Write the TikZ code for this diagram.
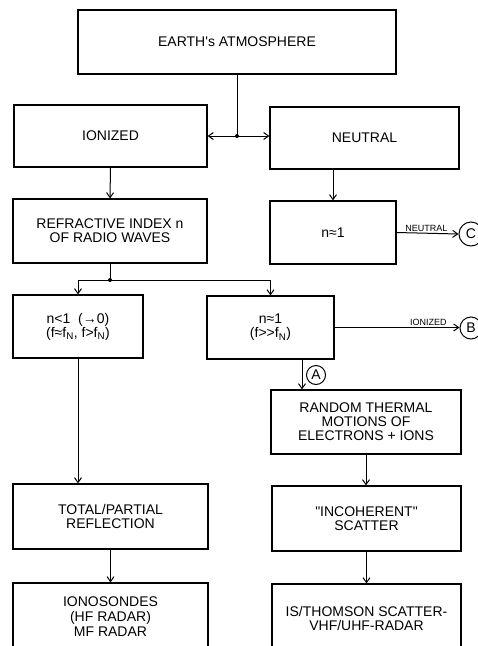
\documentclass[tikz,border=0pt]{standalone}
\usepackage{fontspec}
\setmainfont{Liberation Sans}[Ligatures=TeXOff]
\usetikzlibrary{arrows.meta,calc}
\begin{document}
\begin{tikzpicture}[x=1pt,y=-1pt,
  box/.style={draw,line width=1.1pt,inner sep=0pt,align=center,font=\fontsize{14}{14}\selectfont},
  conn/.style={line width=1pt,-{Straight Barb[length=5pt,width=7pt]}},
  plain/.style={line width=1pt},
  tag/.style={draw,circle,line width=1pt,inner sep=0pt,font=\fontsize{14}{14}\selectfont},
  lab/.style={font=\fontsize{9}{9}\selectfont,inner sep=1.5pt},
  dot/.style={circle,fill,inner sep=0pt,minimum size=4pt}]
\clip (0,0) rectangle (478,646);
\fill[white] (0,0) rectangle (478,646);
% boxes
\node[box,minimum width=318pt,minimum height=64pt] (top) at (237,42) {EARTH's ATMOSPHERE};
\node[box,minimum width=193pt,minimum height=62pt] (ion) at (110.5,136) {IONIZED};
\node[box,minimum width=189pt,minimum height=62pt] (neu) at (364.5,138) {NEUTRAL};
\node[box,minimum width=194pt,minimum height=64pt] (refr) at (110,231) {REFRACTIVE INDEX n\\OF RADIO WAVES};
\node[box,minimum width=126pt,minimum height=63pt] (n1) at (333,232.5) {n≈1};
\node[box,minimum width=130pt,minimum height=63pt] (nl1) at (78,326.5) {n<1 \ (→0)\\(f≈f\textsubscript{N}, f>f\textsubscript{N})};
\node[box,minimum width=127pt,minimum height=63pt] (ne1) at (270.5,327.5) {n≈1\\(f>>f\textsubscript{N})};
\node[box,minimum width=190pt,minimum height=64pt] (rand) at (366,422) {RANDOM THERMAL\\MOTIONS OF\\ELECTRONS + IONS};
\node[box,minimum width=195pt,minimum height=65pt] (total) at (110.5,516.5) {TOTAL/PARTIAL\\REFLECTION};
\node[box,minimum width=189pt,minimum height=65pt] (incoh) at (366.5,518.5) {"INCOHERENT"\\SCATTER};
\node[box,minimum width=195pt,minimum height=68pt,font=\fontsize{14}{15}\selectfont] (iono) at (110.5,617) {IONOSONDES\\(HF RADAR)\\MF RADAR};
\node[box,minimum width=189pt,minimum height=68pt] (is) at (366.5,618) {IS/THOMSON SCATTER-\\VHF/UHF-RADAR};
% tags
\node[tag,minimum size=24pt] (C) at (471,234) {C};
\node[tag,minimum size=22pt] (B) at (471,328) {B};
\node[tag,minimum size=19pt] (A) at (316,375) {A};
% junctions
\node[dot] (j1) at (237,136) {};
\node[dot] (j2) at (110,280) {};
% connectors
\draw[plain] (top.south) -- (j1.center);
\draw[conn] (j1.center) -- (ion.east |- j1);
\draw[conn] (j1.center) -- (neu.west |- j1);
\draw[conn] (ion.south) -- (refr.north);
\draw[conn] (n1.north |- neu.south) -- (n1.north);
\draw[conn] (n1.east) -- node[lab,above,pos=0.48]{NEUTRAL} (C.west);
\draw[plain] (refr.south) -- (j2.center);
\draw[conn] (j2.center) -| (nl1.north);
\draw[conn] (j2.center) -| (ne1.north);
\draw[conn] (ne1.east) -- node[lab,above,pos=0.75]{IONIZED} (ne1.east -| B.west);
\draw[conn] ([xshift=31.5pt]ne1.south) -- ([xshift=31.5pt]ne1.south |- rand.north);
\draw[conn] (nl1.south) -- (nl1.south |- total.north);
\draw[conn] (rand.south) -- (rand.south |- incoh.north);
\draw[conn] (total.south) -- (iono.north);
\draw[conn] (incoh.south) -- (is.north);
\end{tikzpicture}
\end{document}
